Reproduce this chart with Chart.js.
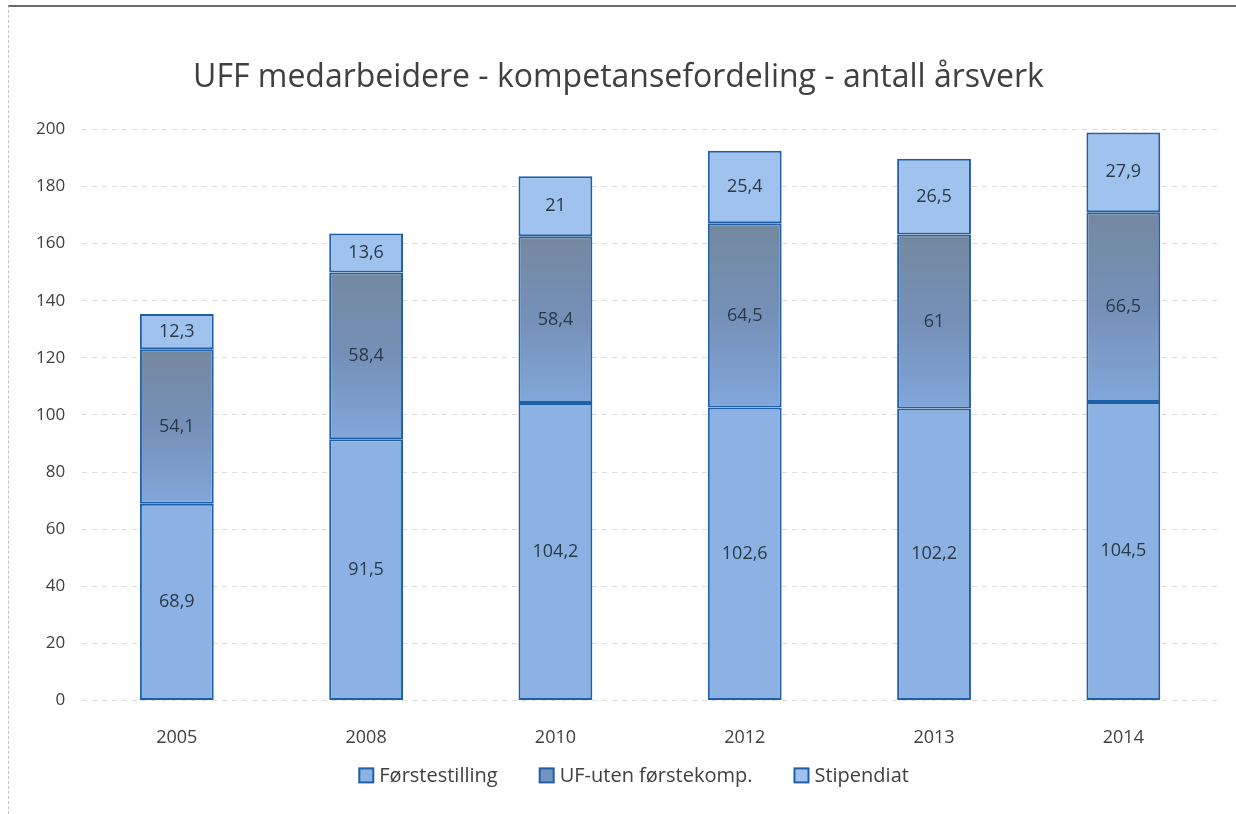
<!DOCTYPE html>
<html>
<head>
<meta charset="utf-8">
<script src="https://cdn.jsdelivr.net/npm/chart.js@4.4.1/dist/chart.umd.min.js"></script>
<style>
  html, body { margin: 0; padding: 0; background: #fff; }
  #ramme {
    position: absolute; left: 8px; top: 5px; width: 1228px; height: 809px;
    border-top: 2px solid #6a6a6a; border-left: 1px dashed #c4c4c4;
    box-sizing: border-box;
  }
  canvas { position: absolute; left: 0; top: 0; }
</style>
</head>
<body>
<div id="ramme"></div>
<canvas id="graf" width="1236" height="814"></canvas>
<script>
// Årstall (kategorier)
const aar = ["2005", "2008", "2010", "2012", "2013", "2014"];

// Årsverk per kompetansegruppe
const forstestilling = [68.9, 91.5, 104.2, 102.6, 102.2, 104.5];
const ufUtenForstekomp = [54.1, 58.4, 58.4, 64.5, 61, 66.5];
const stipendiat = [12.3, 13.6, 21, 25.4, 26.5, 27.9];

const serieNavn = ["Førstestilling", "UF-uten førstekomp.", "Stipendiat"];
const serieFarger = ["#8bb2e3", "#7394bf", "#9fc3ee"];
const yTicks = [0, 20, 40, 60, 80, 100, 120, 140, 160, 180, 200];

const fontFamilie = "'Open Sans', Lato, sans-serif";
const tekstFarge = "#404040";
const kantFarge = "#1f5fa6";

// Skriver verdien midt i hvert stolpesegment, med komma som desimaltegn
const verdiEtiketter = {
  id: "verdiEtiketter",
  afterDatasetsDraw(chart) {
    const ctx = chart.ctx;
    ctx.save();
    ctx.font = "18px " + fontFamilie;
    ctx.fillStyle = "#2a3848";
    ctx.textAlign = "center";
    ctx.textBaseline = "middle";
    chart.data.datasets.forEach((ds, i) => {
      const meta = chart.getDatasetMeta(i);
      meta.data.forEach((bar, j) => {
        const { x, y, base } = bar.getProps(["x", "y", "base"], true);
        const tekst = String(ds.data[j]).replace(".", ",");
        ctx.fillText(tekst, x, (y + base) / 2);
      });
    });
    ctx.restore();
  },
};

// Egen forklaring under x-aksen, med bredere mellomrom enn Chart.js gir
const forklaring = {
  id: "forklaring",
  afterDraw(chart) {
    const ctx = chart.ctx;
    const boks = 14, luft = 6, mellom = 42;
    ctx.save();
    ctx.font = "20px " + fontFamilie;
    ctx.textBaseline = "middle";
    const bredder = serieNavn.map((n) => boks + luft + ctx.measureText(n).width);
    const total = bredder.reduce((a, b) => a + b, 0) + mellom * (serieNavn.length - 1);
    const midt = (chart.chartArea.left + chart.chartArea.right) / 2 - 16;
    const y = chart.chartArea.bottom + 75;
    let x = midt - total / 2;
    serieNavn.forEach((n, i) => {
      ctx.fillStyle = serieFarger[i];
      ctx.fillRect(x, y - boks / 2, boks, boks);
      ctx.strokeStyle = kantFarge;
      ctx.lineWidth = 2;
      ctx.strokeRect(x, y - boks / 2, boks, boks);
      ctx.fillStyle = tekstFarge;
      ctx.fillText(n, x + boks + luft, y + 1);
      x += bredder[i] + mellom;
    });
    ctx.restore();
  },
};

// Midtsegmentet går fra gråblått øverst til blått nederst
function ufGradient(c) {
  const chart = c.chart;
  const y = chart.scales.y;
  if (c.type !== "data" || !y || !chart.chartArea) return serieFarger[1];
  const bunn = forstestilling[c.dataIndex];
  const topp = bunn + ufUtenForstekomp[c.dataIndex];
  const g = chart.ctx.createLinearGradient(0, y.getPixelForValue(topp), 0, y.getPixelForValue(bunn));
  g.addColorStop(0, "#74889f");
  g.addColorStop(0.5, "#7590b8");
  g.addColorStop(1, "#82a7da");
  return g;
}

function lagDatasett(navn, data, farge) {
  return {
    label: navn,
    data,
    backgroundColor: farge,
    borderColor: kantFarge,
    borderWidth: 2,
    borderSkipped: false,
    categoryPercentage: 1,
    barPercentage: 0.39,
  };
}

new Chart(document.getElementById("graf"), {
  type: "bar",
  data: {
    labels: aar,
    datasets: [
      lagDatasett(serieNavn[0], forstestilling, serieFarger[0]),
      lagDatasett(serieNavn[1], ufUtenForstekomp, ufGradient),
      lagDatasett(serieNavn[2], stipendiat, serieFarger[2]),
    ],
  },
  options: {
    responsive: false,
    animation: false,
    layout: { padding: { left: 19, right: 18, top: 59, bottom: 46 } },
    plugins: {
      title: {
        display: true,
        text: "UFF medarbeidere - kompetansefordeling - antall årsverk",
        color: tekstFarge,
        font: { family: fontFamilie, size: 32, weight: "normal" },
        padding: { top: 0, bottom: 32 },
      },
      legend: { display: false },
      tooltip: { enabled: false },
    },
    scales: {
      x: {
        stacked: true,
        grid: { display: false },
        border: { display: false },
        ticks: { color: tekstFarge, font: { family: fontFamilie, size: 18 }, padding: 19 },
      },
      y: {
        stacked: true,
        min: 0,
        max: 200,
        afterBuildTicks(axis) { axis.ticks = yTicks.map((v) => ({ value: v })); },
        grid: { color: "#dcdcdc", drawTicks: false },
        border: { display: false, dash: [5, 5] },
        ticks: { color: tekstFarge, font: { family: fontFamilie, size: 17 }, padding: 17 },
      },
    },
  },
  plugins: [verdiEtiketter, forklaring],
});
</script>
</body>
</html>
